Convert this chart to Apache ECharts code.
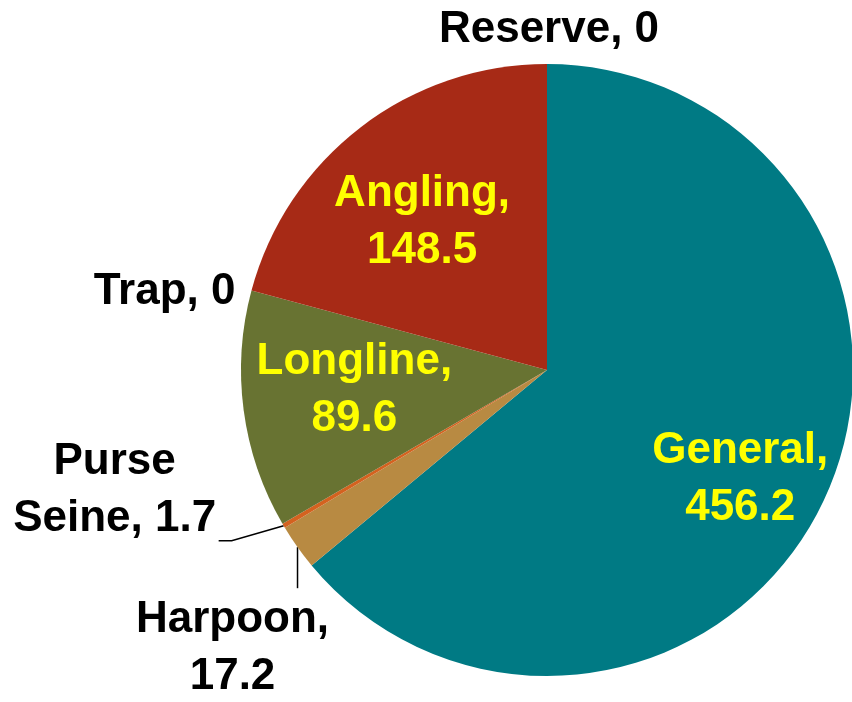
<!DOCTYPE html>
<html>
<head>
<meta charset="utf-8">
<script src="https://cdn.jsdelivr.net/npm/echarts@6/dist/echarts.min.js"></script>
<style>
html, body { margin: 0; padding: 0; background: #fff; }
#main { width: 852px; height: 702px; }
</style>
</head>
<body>
<div id="main"></div>
<script>
// 类别与数值（顺时针，从12点方向开始）
const categories = ['General', 'Harpoon', 'Purse\nSeine', 'Longline', 'Trap', 'Angling', 'Reserve'];
const values = [456.2, 17.2, 1.7, 89.6, 0, 148.5, 0];
const colors = ['#007a84', '#b88a42', '#d4621f', '#687332', '#687332', '#a72a16', '#a72a16'];

// 标签样式：内部黄色，外部黑色
const insideNames = ['General', 'Longline', 'Angling'];
const insideOffsets = {
    General: [52, 43],
    Longline: [-38, 0],
    Angling: [-30, -24]
};

let myChart = echarts.init(document.getElementById('main'));

let seriesData = categories.map((name, i) => {
    let inside = insideNames.indexOf(name) >= 0;
    let item = {
        name: name,
        value: values[i],
        itemStyle: { color: colors[i] },
        label: {
            position: inside ? 'inside' : 'outside',
            color: inside ? '#ffff00' : '#000'
        }
    };
    if (inside) {
        item.label.offset = insideOffsets[name];
        item.label.formatter = '{b},\n{c}';
    }
    return item;
});

myChart.setOption({
    animation: false,
    series: [{
        type: 'pie',
        center: [547, 370],
        radius: 306,
        startAngle: 90,
        clockwise: true,
        minAngle: 0,
        avoidLabelOverlap: false,
        stillShowZeroSum: true,
        itemStyle: { borderWidth: 0 },
        label: {
            show: true,
            formatter: function (p) {
                return p.name === 'Harpoon' ? p.name + ',\n' + p.value : p.name + ', ' + p.value;
            },
            fontFamily: '"Liberation Sans", Arial, sans-serif',
            fontWeight: 'bold',
            fontSize: 44,
            lineHeight: 57,
            align: 'center'
        },
        labelLine: {
            show: true,
            length: 10,
            length2: 10,
            smooth: false,
            lineStyle: { color: '#000', width: 1.5 }
        },
        labelLayout: function (params) {
            let pts = params.labelLinePoints;
            if (!pts) return {};
            let p0 = pts[0];
            let name = categories[params.dataIndex];
            if (name === 'Harpoon') {
                return {
                    x: p0[0] - 65, y: p0[1] + 101,
                    align: 'center', verticalAlign: 'middle',
                    labelLinePoints: [p0, [p0[0], p0[1] + 41], [p0[0], p0[1] + 41]]
                };
            }
            if (name === 'Purse\nSeine') {
                return {
                    x: p0[0] - 169, y: p0[1] - 35,
                    align: 'center', verticalAlign: 'middle',
                    labelLinePoints: [p0, [p0[0] - 52, p0[1] + 15], [p0[0] - 65, p0[1] + 15]]
                };
            }
            if (name === 'Trap') {
                return {
                    x: p0[0] - 16, y: p0[1] + 1,
                    align: 'right', verticalAlign: 'middle',
                    labelLinePoints: [p0, p0, p0]
                };
            }
            if (name === 'Reserve') {
                return {
                    x: p0[0] + 2, y: p0[1] - 34,
                    align: 'center', verticalAlign: 'middle',
                    labelLinePoints: [p0, p0, p0]
                };
            }
            return {};
        },
        data: seriesData
    }]
});
</script>
</body>
</html>
